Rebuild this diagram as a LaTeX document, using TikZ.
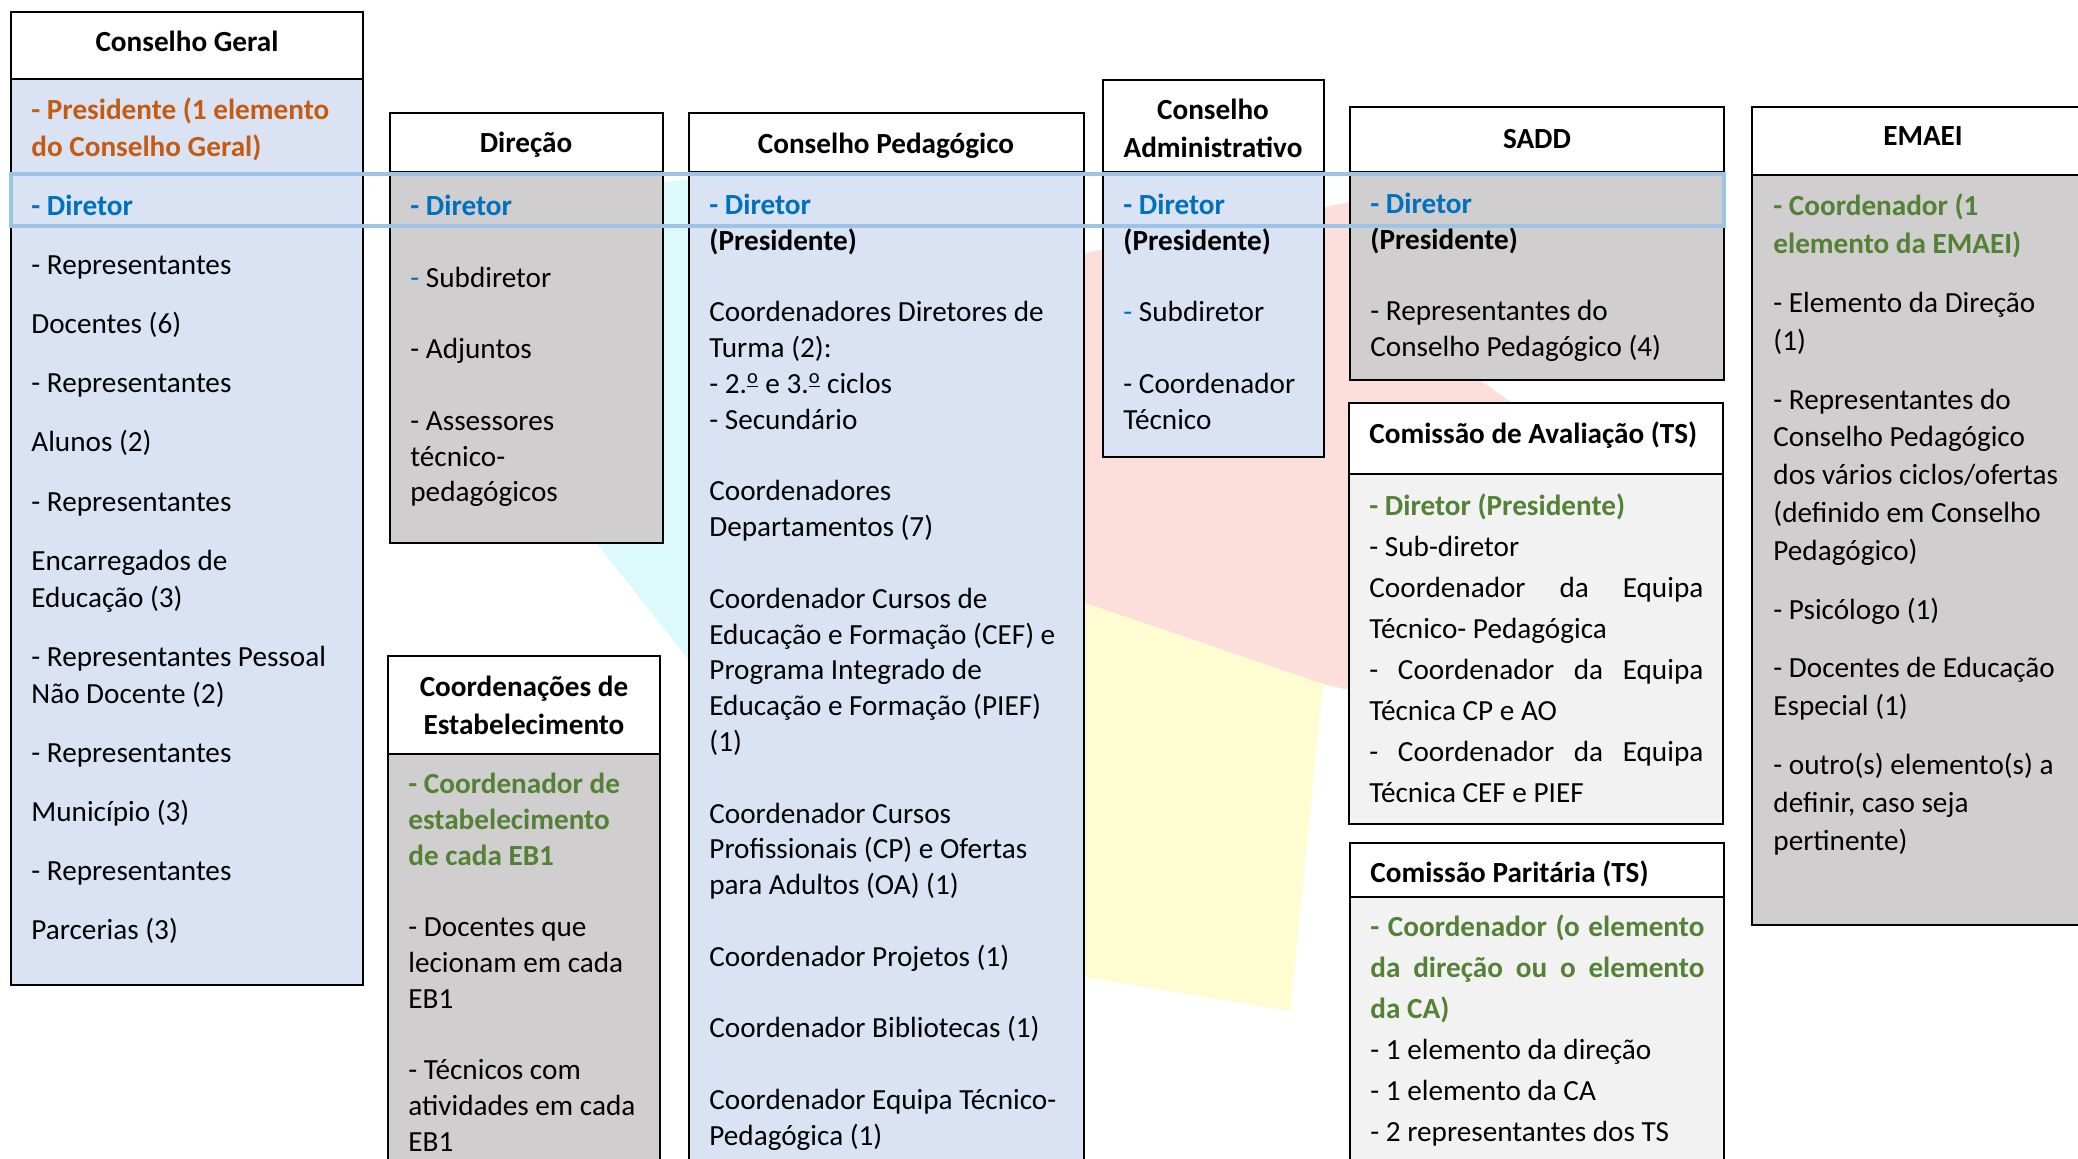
\documentclass[tikz,border=0pt]{standalone}
\usepackage{fontspec}
\setmainfont{Carlito}

\definecolor{paleblue}{HTML}{DAE3F3}
\definecolor{palegrey}{HTML}{D0CECE}
\definecolor{paleshade}{HTML}{F2F2F2}
\definecolor{bandblue}{HTML}{9DC3E6}
\definecolor{diretorblue}{HTML}{0070C0}
\definecolor{presorange}{HTML}{C55A11}
\definecolor{coordgreen}{HTML}{538135}
\definecolor{markcyan}{HTML}{DCF9FB}
\definecolor{markpink}{HTML}{FCDEDA}
\definecolor{markyellow}{HTML}{FEFDD2}

\newcommand{\azul}[1]{\textcolor{diretorblue}{\bfseries #1}}
\newcommand{\verde}[1]{\textcolor{coordgreen}{\bfseries #1}}
\newcommand{\laranja}[1]{\textcolor{presorange}{\bfseries #1}}
\newcommand{\traco}{\textcolor{diretorblue}{-}}
\newcommand{\ordo}{\textsuperscript{\underline{o}}}

\tikzset{
	headbox/.style={draw=black, fill=white, line width=0.9pt},
	bluebox/.style={draw=black, fill=paleblue, line width=0.9pt},
	greybox/.style={draw=black, fill=palegrey, line width=0.9pt},
	shadebox/.style={draw=black, fill=paleshade, line width=0.9pt},
	boxtitle/.style={inner sep=0pt, align=center, font=\bfseries\fontsize{14.6}{19}\selectfont},
	boxtext/.style={anchor=north west, inner sep=0pt, align=left, font=\fontsize{14.6}{17.9}\selectfont},
	band/.style={draw=bandblue, line width=2pt}
}

\begin{document}
\begin{tikzpicture}[x=0.5pt,y=-0.5pt]
	\useasboundingbox (0,0) rectangle (2078,1158);
	\clip (0,0) rectangle (2078,1158);

	\fill[markcyan] (600,190) -- (700,178) -- (700,674) -- (590,535) -- cycle;
	\fill[markpink] (1085,253) -- (1350,202) -- (1480,380) -- (1515,405) -- (1349,690) -- (1323,684) -- (1085,603) -- cycle;
	\fill[markyellow] (1085,603) -- (1323,684) -- (1290,1011) -- (1085,977) -- cycle;

	\draw[headbox] (11,12) rectangle (363,79);
	\draw[bluebox] (11,79) rectangle (363,985);
	\draw[headbox] (390,113) rectangle (663,172);
	\draw[greybox] (390,172) rectangle (663,543);
	\draw[headbox] (689,113) rectangle (1084,172);
	\draw[bluebox] (689,172) rectangle (1084,1180);
	\draw[headbox] (1103,80) rectangle (1324,172);
	\draw[bluebox] (1103,172) rectangle (1324,457);
	\draw[headbox] (1350,107) rectangle (1724,172);
	\draw[greybox] (1350,172) rectangle (1724,380);
	\draw[headbox] (1752,107) rectangle (2100,175);
	\draw[greybox] (1752,175) rectangle (2100,925);
	\draw[headbox] (388,656) rectangle (660,754);
	\draw[greybox] (388,754) rectangle (660,1180);
	\draw[headbox] (1349,403) rectangle (1723,474);
	\draw[shadebox] (1349,474) rectangle (1723,824);
	\draw[headbox] (1350,843) rectangle (1724,897);
	\draw[shadebox] (1350,897) rectangle (1724,1180);

	\node[boxtitle] (cgTitle) at (187,44) {\strut Conselho Geral};
	\node[boxtitle] (dirTitle) at (526,145) {\strut Direção};
	\node[boxtitle] (cpTitle) at (886,146) {\strut Conselho Pedagógico};
	\node[boxtitle] (caTitle) at (1213,131) {\strut Conselho\\Administrativo\strut};
	\node[boxtitle] (saddTitle) at (1537,141) {\strut SADD};
	\node[boxtitle] (emaeiTitle) at (1923,138) {\strut EMAEI};
	\node[boxtitle] (coordTitle) at (524,708) {\strut Coordenações de\\Estabelecimento\strut};
	\node[boxtitle, anchor=west] (avalTitle) at (1369,436) {\strut Comissão de Avaliação (TS)};
	\node[boxtitle, anchor=west] (parTitle) at (1370,875) {\strut Comissão Paritária (TS)};

	\node[boxtext, font=\fontsize{14.6}{18.55}\selectfont] (cgText) at (31,93) {\strut\laranja{- Presidente (1 elemento}\\
		\laranja{do Conselho Geral)}\\[11pt]
		\azul{- Diretor}\\[11pt]
		- Representantes\\[11pt]
		Docentes (6)\\[11pt]
		- Representantes\\[11pt]
		Alunos (2)\\[11pt]
		- Representantes\\[11pt]
		Encarregados de\\
		Educação (3)\\[11pt]
		- Representantes Pessoal\\
		Não Docente (2)\\[11pt]
		- Representantes\\[11pt]
		Município (3)\\[11pt]
		- Representantes\\[11pt]
		Parcerias (3)};

	\node[boxtext] (dirText) at (410,190) {\strut\azul{- Diretor}\\[17.9pt]
		\traco\ Subdiretor\\[17.9pt]
		- Adjuntos\\[17.9pt]
		- Assessores\\
		técnico-\\
		pedagógicos};

	\node[boxtext] (cpText) at (709,189) {\strut\azul{- Diretor}\\
		\textbf{(Presidente)}\\[17.9pt]
		Coordenadores Diretores de\\
		Turma (2):\\
		- 2.\ordo{} e 3.\ordo{} ciclos\\
		- Secundário\\[17.9pt]
		Coordenadores\\
		Departamentos (7)\\[17.9pt]
		Coordenador Cursos de\\
		Educação e Formação (CEF) e\\
		Programa Integrado de\\
		Educação e Formação (PIEF)\\
		(1)\\[17.9pt]
		Coordenador Cursos\\
		Profissionais (CP) e Ofertas\\
		para Adultos (OA) (1)\\[17.9pt]
		Coordenador Projetos (1)\\[17.9pt]
		Coordenador Bibliotecas (1)\\[17.9pt]
		Coordenador Equipa Técnico-\\
		Pedagógica (1)};

	\node[boxtext] (caText) at (1123,189) {\strut\azul{- Diretor}\\
		\textbf{(Presidente)}\\[17.9pt]
		\traco\ Subdiretor\\[17.9pt]
		- Coordenador\\
		Técnico};

	\node[boxtext] (saddText) at (1370,188) {\strut\azul{- Diretor}\\
		\textbf{(Presidente)}\\[17.9pt]
		- Representantes do\\
		Conselho Pedagógico (4)};

	\node[boxtext, font=\fontsize{14.6}{18.9}\selectfont] (emaeiText) at (1773,189) {\strut\verde{- Coordenador (1}\\
		\verde{elemento da EMAEI)}\\[10.5pt]
		- Elemento da Direção\\
		(1)\\[10.5pt]
		- Representantes do\\
		Conselho Pedagógico\\
		dos vários ciclos/ofertas\\
		(definido em Conselho\\
		Pedagógico)\\[10.5pt]
		- Psicólogo (1)\\[10.5pt]
		- Docentes de Educação\\
		Especial (1)\\[10.5pt]
		- outro(s) elemento(s) a\\
		definir, caso seja\\
		pertinente)};

	\node[boxtext] (coordText) at (408,768) {\strut\verde{- Coordenador de}\\
		\verde{estabelecimento}\\
		\verde{de cada EB1}\\[17.9pt]
		- Docentes que\\
		lecionam em cada\\
		EB1\\[17.9pt]
		- Técnicos com\\
		atividades em cada\\
		EB1};

	\node[boxtext, font=\fontsize{14.6}{20.55}\selectfont] (avalText) at (1369,486) {\strut\verde{- Diretor (Presidente)}\\
		- Sub-diretor\\
		\makebox[167pt][s]{Coordenador\hfill da\hfill Equipa}\\
		Técnico- Pedagógica\\
		\makebox[167pt][s]{-\hfill Coordenador\hfill da\hfill Equipa}\\
		Técnica CP e AO\\
		\makebox[167pt][s]{-\hfill Coordenador\hfill da\hfill Equipa}\\
		Técnica CEF e PIEF};

	\node[boxtext, font=\fontsize{14.6}{20.55}\selectfont] (parText) at (1370,907) {\strut\verde{\makebox[167pt][s]{-\hfill Coordenador\hfill (o\hfill elemento}}\\
		\verde{\makebox[167pt][s]{da\hfill direção\hfill ou\hfill o\hfill elemento}}\\
		\verde{da CA)}\\
		- 1 elemento da direção\\
		- 1 elemento da CA\\
		- 2 representantes dos TS};

	\draw[band] (11,174) rectangle (1724,226);
\end{tikzpicture}
\end{document}
